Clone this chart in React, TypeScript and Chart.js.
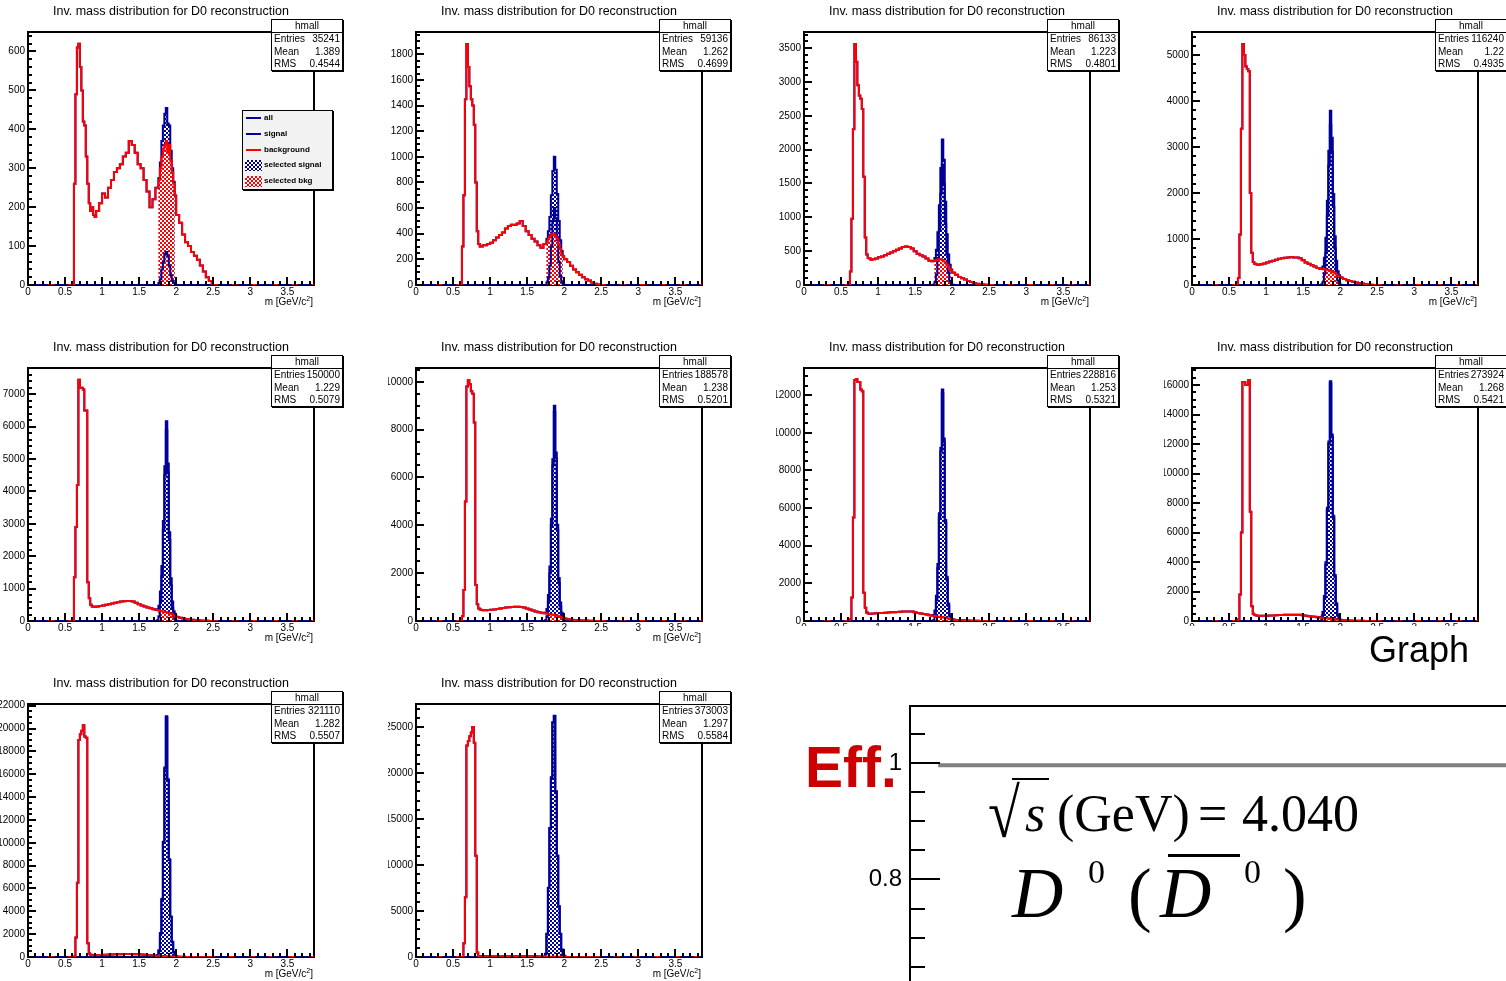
import React, { useEffect, useRef } from 'react';
import { Chart, registerables } from 'chart.js';

Chart.register(...registerables);

// ------------------------------------------------------------------ data
const X_MAX = 3.86;
const SEL_LO = 1.76;
const SEL_HI = 1.98;
const X_TICKS = [0, 0.5, 1, 1.5, 2, 2.5, 3, 3.5];

// background histogram bin edges (GeV/c^2)
const BKG_EDGES = [
  0.60, 0.62, 0.64, 0.66, 0.68, 0.70, 0.72, 0.74, 0.76, 0.78,
  0.80, 0.82, 0.84, 0.86, 0.88, 0.90, 0.92,
  0.96, 1.00, 1.04, 1.08, 1.12, 1.16, 1.20, 1.24, 1.28, 1.32,
  1.36, 1.40, 1.44, 1.48, 1.52, 1.56, 1.60, 1.64, 1.68, 1.72, 1.76,
  1.78, 1.80, 1.82, 1.84, 1.86, 1.88, 1.90, 1.92, 1.94, 1.96, 1.98, 2.00,
  2.04, 2.08, 2.12, 2.16, 2.20, 2.24, 2.28, 2.32, 2.36, 2.40, 2.44, 2.48, 2.52,
];
// signal histogram bin edges
const SIG_EDGES = [1.72, 1.74, 1.76, 1.78, 1.80, 1.82, 1.84, 1.86, 1.88, 1.90, 1.92, 1.94, 1.96, 1.98, 2.00, 2.02, 2.04];

const BKG_P1 = [
  0, 260, 490, 610, 620, 560, 500, 420, 410, 330,
  260, 210, 190, 200, 180, 175, 190,
  210, 235, 225, 250, 270, 290, 300, 310, 330, 340,
  370, 360, 340, 310, 300, 270, 240, 200, 220, 250, 270,
  300, 330, 350, 360, 370, 340, 360, 320, 290, 260, 230, 180,
  160, 130, 110, 100, 85, 75, 65, 50, 35, 20, 10, 0,
];
const BKG_P2 = [
  0, 300, 700, 1450, 1880, 1700, 1550, 1450, 1400, 1250,
  800, 420, 320, 300, 300, 310, 310,
  320, 330, 350, 370, 390, 410, 440, 460, 470, 470,
  480, 500, 460, 420, 390, 360, 340, 310, 290, 320, 340,
  360, 380, 400, 390, 400, 380, 360, 320, 280, 240, 220, 200,
  180, 150, 120, 100, 80, 60, 45, 35, 20, 10, 3, 0,
];
const BKG_P3 = [
  0, 200, 980, 2300, 3560, 3300, 2950, 2800, 2750, 2600,
  1600, 700, 450, 400, 390, 370, 380,
  390, 410, 420, 440, 460, 480, 500, 520, 540, 560,
  570, 560, 540, 500, 460, 440, 420, 390, 360, 350, 360,
  370, 380, 380, 380, 370, 350, 330, 300, 270, 240, 210, 180,
  150, 120, 100, 80, 60, 45, 30, 20, 12, 6, 2, 0,
];
const BKG_P4 = [
  0, 150, 1100, 3400, 5240, 5000, 4750, 4700, 4650, 2000,
  700, 500, 460, 450, 440, 440, 450,
  470, 490, 510, 530, 550, 570, 580, 590, 600, 610,
  600, 600, 580, 540, 490, 460, 430, 400, 370, 350, 340,
  340, 330, 330, 320, 310, 300, 280, 260, 230, 200, 180, 160,
  130, 105, 85, 70, 55, 40, 30, 20, 12, 6, 2, 0,
];
const BKG_P5 = [
  0, 1350, 2900, 4200, 7450, 7200, 7200, 7150, 6500, 6500,
  1200, 700, 500, 450, 440, 440, 450,
  460, 480, 500, 520, 540, 560, 580, 600, 610, 620,
  620, 600, 560, 520, 480, 450, 420, 390, 360, 340, 320,
  310, 300, 290, 280, 270, 260, 240, 220, 200, 170, 140, 120,
  100, 80, 60, 45, 35, 28, 22, 16, 10, 5, 2, 0,
];
const BKG_P6 = [
  0, 200, 1300, 5000, 9800, 10070, 9900, 9600, 9500, 8300,
  1500, 700, 520, 480, 460, 450, 450,
  460, 470, 480, 500, 520, 540, 560, 570, 590, 600,
  600, 590, 560, 520, 480, 440, 400, 370, 340, 320, 300,
  290, 280, 270, 260, 250, 240, 220, 200, 170, 140, 110, 90,
  70, 55, 45, 35, 28, 22, 16, 12, 8, 4, 2, 0,
];
const BKG_P7 = [
  0, 100, 1250, 5500, 12800, 12850, 12700, 12700, 12300, 12200,
  1500, 700, 450, 400, 390, 390, 400,
  410, 420, 430, 440, 450, 460, 470, 480, 490, 500,
  510, 510, 500, 470, 430, 400, 370, 340, 310, 280, 260,
  240, 230, 220, 210, 200, 190, 170, 150, 130, 110, 90, 70,
  55, 45, 35, 28, 22, 16, 12, 8, 5, 3, 1, 0,
];
const BKG_P8 = [
  0, 100, 1800, 6000, 16200, 16200, 16000, 16000, 16340, 7400,
  1000, 500, 400, 370, 350, 350, 350,
  350, 360, 370, 380, 390, 400, 410, 420, 420, 430,
  430, 430, 420, 390, 360, 330, 300, 280, 250, 230, 210,
  200, 190, 180, 170, 160, 150, 140, 120, 100, 85, 70, 55,
  45, 35, 28, 22, 16, 12, 9, 6, 4, 2, 1, 0,
];
const BKG_P9 = [
  0, 50, 1700, 6500, 19000, 19500, 19800, 20300, 19300, 19200,
  1200, 300, 200, 170, 160, 160, 170,
  180, 190, 200, 210, 220, 230, 240, 250, 260, 260,
  260, 250, 240, 230, 210, 190, 170, 150, 130, 110, 100,
  95, 90, 85, 80, 75, 70, 60, 50, 40, 35, 28, 22,
  18, 14, 10, 8, 6, 4, 3, 2, 1, 1, 0, 0,
];
const BKG_P10 = [
  0, 0, 1500, 6500, 23000, 23500, 24000, 24400, 25000, 23300,
  11000, 500, 120, 90, 80, 80, 80,
  80, 85, 90, 95, 100, 105, 110, 115, 120, 120,
  120, 115, 110, 100, 90, 80, 70, 60, 50, 45, 40,
  38, 35, 32, 30, 28, 25, 22, 20, 17, 14, 12, 10,
  8, 6, 5, 4, 3, 2, 2, 1, 1, 0, 0, 0,
];

const SIG_P1 = [0, 0, 5, 15, 40, 60, 80, 85, 75, 50, 25, 10, 5, 0, 0, 0];
const SIG_P2 = [0, 0, 20, 60, 150, 300, 500, 600, 520, 350, 180, 70, 25, 5, 0, 0];
const SIG_P3 = [0, 5, 40, 150, 400, 800, 1350, 1780, 1500, 900, 450, 180, 60, 20, 5, 0];
const SIG_P4 = [0, 10, 60, 250, 700, 1500, 2600, 3480, 2900, 1700, 800, 300, 100, 30, 8, 0];
const SIG_P5 = [0, 20, 150, 600, 1400, 2800, 4500, 5900, 4600, 2500, 1100, 400, 130, 40, 10, 0];
const SIG_P6 = [0, 30, 200, 800, 2000, 4000, 6500, 8750, 6800, 3800, 1600, 600, 200, 60, 15, 0];
const SIG_P7 = [0, 40, 300, 1100, 2800, 5500, 9000, 12100, 9500, 5200, 2200, 800, 250, 70, 20, 0];
const SIG_P8 = [0, 50, 400, 1500, 3800, 7500, 12000, 16100, 12500, 7000, 3000, 1100, 350, 100, 25, 0];
const SIG_P9 = [0, 60, 500, 2000, 5000, 10000, 16500, 21000, 15500, 8500, 3500, 1300, 400, 120, 30, 0];
const SIG_P10 = [0, 300, 2500, 7500, 14000, 19500, 25500, 26200, 18000, 11000, 5500, 2500, 800, 200, 50, 0];

const BKG = [BKG_P1, BKG_P2, BKG_P3, BKG_P4, BKG_P5, BKG_P6, BKG_P7, BKG_P8, BKG_P9, BKG_P10];
const SIG = [SIG_P1, SIG_P2, SIG_P3, SIG_P4, SIG_P5, SIG_P6, SIG_P7, SIG_P8, SIG_P9, SIG_P10];

const Y_MAX = [650, 1974, 3738, 5502, 7811, 10575, 13440, 17155, 22150, 27510];
const Y_STEP = [100, 200, 500, 1000, 1000, 2000, 2000, 2000, 2000, 5000];

const ENTRIES = ['35241', '59136', '86133', '116240', '150000', '188578', '228816', '273924', '321110', '373003'];
const MEANS = ['1.389', '1.262', '1.223', '1.22', '1.229', '1.238', '1.253', '1.268', '1.282', '1.297'];
const RMS = ['0.4544', '0.4699', '0.4801', '0.4935', '0.5079', '0.5201', '0.5321', '0.5421', '0.5507', '0.5584'];

const LEGEND_LABELS = ['all', 'signal', 'background', 'selected signal', 'selected bkg'];

const GRAPH_X = [3.743, 4.04, 4.7];
const GRAPH_EFF = [0.997, 0.997, 0.997];
const GRAPH_Y_MIN = 0.5302;
const GRAPH_Y_MAX = 1.0991;
const GRAPH_Y_TICKS = [0.6, 0.8, 1];

// ------------------------------------------------------------------ style
const SANS = '"Liberation Sans", Arial, Helvetica, sans-serif';
const SERIF = '"Liberation Serif", "Times New Roman", Times, serif';
const BLUE = '#000099';
const RED = '#ff0000';
const PAD_W = 388;
const PAD_H = 336;
const BLEED = 14; // canvas extends left of the pad so long y labels are not cut

// ------------------------------------------------------------------ helpers
function stepAt(edges: number[], vals: number[], x: number) {
  for (let i = 0; i < vals.length; i++) {
    if (x >= edges[i] - 1e-9 && x < edges[i + 1] - 1e-9) return vals[i];
  }
  return 0;
}
function uniq(a: number[]) {
  return Array.from(new Set(a.map((v) => Math.round(v * 1000) / 1000))).sort((p, q) => p - q);
}
function minorDiv(step: number) {
  const lead = Math.round(step / Math.pow(10, Math.floor(Math.log10(step))));
  return lead === 2 ? 4 : 5;
}
function majorTicks(step: number, max: number) {
  const out: number[] = [];
  for (let k = 0; k * step <= max + 1e-9; k++) out.push(k * step);
  return out;
}
function makePattern(ctx: CanvasRenderingContext2D, color: string) {
  const c = document.createElement('canvas');
  c.width = 4;
  c.height = 4;
  const g = c.getContext('2d')!;
  g.fillStyle = '#ffffff';
  g.fillRect(0, 0, 4, 4);
  g.fillStyle = color;
  g.fillRect(0, 0, 2, 2);
  g.fillRect(2, 2, 2, 2);
  return ctx.createPattern(c, 'repeat');
}
const fmt = (v: number) => String(Math.round(v * 1000) / 1000);

function rootAxesPlugin(xMajor: number, xMinor: number, yMajor: number, yMinor: number) {
  return {
    id: 'rootAxes',
    beforeDatasetsDraw(chart: any) {
      const { ctx, chartArea: a } = chart;
      ctx.save();
      ctx.strokeStyle = '#000';
      ctx.lineWidth = 2;
      ctx.strokeRect(a.left, a.top, a.right - a.left, a.bottom - a.top);
      ctx.restore();
    },
    afterDatasetsDraw(chart: any) {
      const { ctx, chartArea: a } = chart;
      const xs = chart.scales.x;
      const ys = chart.scales.y;
      ctx.save();
      ctx.strokeStyle = '#000';
      ctx.lineWidth = 2;
      ctx.beginPath();
      for (let k = 0; ; k++) {
        const v = k * xMinor;
        if (v > xs.max + 1e-9) break;
        const px = Math.round(xs.getPixelForValue(v));
        const major = Math.abs(v / xMajor - Math.round(v / xMajor)) < 1e-6;
        const len = major ? 8 : 4;
        ctx.moveTo(px, a.bottom);
        ctx.lineTo(px, a.bottom - len);
      }
      for (let k = 0; ; k++) {
        const v = k * yMinor;
        if (v > ys.max + 1e-9) break;
        const py = Math.round(ys.getPixelForValue(v));
        const major = Math.abs(v / yMajor - Math.round(v / yMajor)) < 1e-6;
        const len = major ? 8 : 4;
        ctx.moveTo(a.left, py);
        ctx.lineTo(a.left + len, py);
      }
      ctx.stroke();
      ctx.restore();
    },
  };
}

// ------------------------------------------------------------------ histogram pad
function Hist({ idx }: { idx: number }) {
  const ref = useRef<HTMLCanvasElement | null>(null);
  useEffect(() => {
    const canvas = ref.current!;
    const ctx = canvas.getContext('2d')!;
    const bkg = BKG[idx];
    const sig = SIG[idx];
    const bkgF = (x: number) => stepAt(BKG_EDGES, bkg, x);
    const sigF = (x: number) => stepAt(SIG_EDGES, sig, x);
    const allF = (x: number) => bkgF(x) + sigF(x);
    const grid = uniq([0, ...BKG_EDGES, ...SIG_EDGES, X_MAX]);
    const win = grid.filter((x) => x >= SEL_LO - 1e-9 && x <= SEL_HI + 1e-9);
    const selAll = win.map((x) => ({ x, y: x < SEL_HI - 1e-9 ? allF(x) : 0 }));
    const selBkg = win.map((x) => ({ x, y: x < SEL_HI - 1e-9 ? bkgF(x) : 0 }));
    const bkgLine = uniq([0, ...BKG_EDGES, X_MAX]).map((x) => ({ x, y: bkgF(x) }));
    const sigLine = uniq([0, ...SIG_EDGES, X_MAX]).map((x) => ({ x, y: sigF(x) }));
    const allLine = grid.map((x) => ({ x, y: allF(x) }));
    const ystep = Y_STEP[idx];
    const yTicks = majorTicks(ystep, Y_MAX[idx]);
    const common = { stepped: true, pointRadius: 0, pointHoverRadius: 0 };
    const chart = new Chart(canvas, {
      type: 'line',
      data: {
        datasets: [
          {
            ...common,
            data: bkgLine,
            borderColor: RED,
            borderWidth: 2,
            fill: false,
            segment: {
              borderDash: (c: any) => (c.p0.parsed.y === 0 && c.p1.parsed.y === 0 ? [6, 14] : undefined),
            },
          },
          { ...common, data: sigLine, borderColor: BLUE, borderWidth: 2, fill: false },
          { ...common, data: allLine, borderColor: BLUE, borderWidth: 2, fill: false },
          {
            ...common,
            data: selBkg,
            borderColor: 'rgba(0,0,0,0)',
            borderWidth: 1,
            backgroundColor: makePattern(ctx, RED),
            fill: 'origin',
          },
          {
            ...common,
            data: selAll,
            borderColor: 'rgba(0,0,0,0)',
            borderWidth: 1,
            backgroundColor: makePattern(ctx, BLUE),
            fill: 'origin',
          },
        ],
      } as any,
      options: {
        animation: false,
        responsive: false,
        events: [],
        layout: { padding: { left: BLEED, top: 32, right: PAD_W - 314, bottom: PAD_H - 285 - 20 } },
        plugins: { legend: { display: false }, tooltip: { enabled: false } },
        scales: {
          x: {
            type: 'linear',
            min: 0,
            max: X_MAX,
            grid: { display: false, drawTicks: false },
            border: { display: false },
            ticks: {
              autoSkip: false,
              maxRotation: 0,
              padding: 1,
              color: '#000',
              font: { family: SANS, size: 10 },
              callback: (v: any) => fmt(Number(v)),
            },
            afterBuildTicks: (s: any) => {
              s.ticks = X_TICKS.map((v) => ({ value: v }));
            },
            afterFit: (s: any) => {
              s.height = 20;
            },
          },
          y: {
            type: 'linear',
            min: 0,
            max: Y_MAX[idx],
            grid: { display: false, drawTicks: false },
            border: { display: false },
            ticks: {
              autoSkip: false,
              padding: 3,
              color: '#000',
              font: { family: SANS, size: 10 },
              callback: (v: any) => fmt(Number(v)),
            },
            afterBuildTicks: (s: any) => {
              s.ticks = yTicks.map((v) => ({ value: v }));
            },
            afterFit: (s: any) => {
              s.width = 28;
            },
          },
        },
      } as any,
      plugins: [rootAxesPlugin(0.5, 0.1, ystep, ystep / minorDiv(ystep))],
    });
    return () => chart.destroy();
  }, [idx]);

  const col = idx % 4;
  const row = Math.floor(idx / 4);
  const rows: [string, string][] = [
    ['Entries', ENTRIES[idx]],
    ['Mean', MEANS[idx]],
    ['RMS', RMS[idx]],
  ];
  return (
    <div style={{ position: 'absolute', left: col * PAD_W, top: row * PAD_H, width: PAD_W, height: PAD_H }}>
      <canvas
        ref={ref}
        width={PAD_W + BLEED}
        height={PAD_H}
        style={{ position: 'absolute', left: -BLEED, top: 0, width: PAD_W + BLEED, height: PAD_H }}
      />
      <div
        style={{
          position: 'absolute',
          left: 0,
          top: 3,
          width: 342,
          textAlign: 'center',
          fontSize: 12.5,
          lineHeight: '16px',
          whiteSpace: 'nowrap',
          color: '#000',
        }}
      >
        Inv. mass distribution for D0 reconstruction
      </div>
      <div
        style={{
          position: 'absolute',
          left: 271,
          top: 19,
          width: 70,
          height: 50,
          border: '1px solid #000',
          boxShadow: '1px 1px 0 #000',
          background: '#fff',
          fontSize: 10,
          lineHeight: 1,
          color: '#000',
        }}
      >
        <div
          style={{
            height: 12,
            display: 'flex',
            alignItems: 'center',
            justifyContent: 'center',
            borderBottom: '1px solid #000',
          }}
        >
          hmall
        </div>
        {rows.map(([k, v]) => (
          <div
            key={k}
            style={{
              height: 12.5,
              display: 'flex',
              alignItems: 'center',
              justifyContent: 'space-between',
              padding: '0 2px 0 2px',
              whiteSpace: 'nowrap',
            }}
          >
            <span>{k}</span>
            <span>{v}</span>
          </div>
        ))}
      </div>
      <div
        style={{
          position: 'absolute',
          left: 213,
          top: 295,
          width: 100,
          textAlign: 'right',
          fontSize: 10,
          lineHeight: '14px',
          whiteSpace: 'nowrap',
          color: '#000',
        }}
      >
        m [GeV/c<span style={{ fontSize: 7, position: 'relative', top: -4 }}>2</span>]
      </div>
      {idx === 0 && <Legend />}
    </div>
  );
}

function Legend() {
  const checker = (c: string) => `repeating-conic-gradient(${c} 0% 25%, #ffffff 0% 50%) 0 0 / 4px 4px`;
  return (
    <div
      style={{
        position: 'absolute',
        left: 242,
        top: 110,
        width: 89,
        height: 78,
        border: '1px solid #000',
        boxShadow: '1px 1px 0 #000',
        background: '#f2f2f2',
      }}
    >
      {LEGEND_LABELS.map((lab, i) => {
        const cy = 7 + i * 15.75;
        const isFill = i >= 3;
        const color = i === 2 || i === 4 ? RED : BLUE;
        return (
          <React.Fragment key={lab}>
            {isFill ? (
              <div
                style={{
                  position: 'absolute',
                  left: 2,
                  top: cy - 5.5,
                  width: 17,
                  height: 11,
                  background: checker(color),
                }}
              />
            ) : (
              <div style={{ position: 'absolute', left: 3, top: cy - 1, width: 15, height: 2, background: color }} />
            )}
            <div
              style={{
                position: 'absolute',
                left: 21,
                top: cy - 6,
                lineHeight: '12px',
                fontSize: 8,
                fontWeight: 'bold',
                whiteSpace: 'nowrap',
                color: '#000',
              }}
            >
              {lab}
            </div>
          </React.Fragment>
        );
      })}
    </div>
  );
}

// ------------------------------------------------------------------ graph pad
const GP_X = 776;
const GP_Y = 626;

function T(props: {
  x: number;
  base: number;
  size: number;
  fam?: string;
  weight?: string;
  italic?: boolean;
  color?: string;
  stretchY?: number;
  children: React.ReactNode;
}) {
  const fam = props.fam || SANS;
  const k = fam === SERIF ? 0.8375 : 0.8465;
  return (
    <div
      style={{
        position: 'absolute',
        left: props.x - GP_X,
        top: props.base - k * props.size - GP_Y,
        fontSize: props.size,
        lineHeight: `${props.size}px`,
        fontFamily: fam,
        fontWeight: props.weight || 'normal',
        fontStyle: props.italic ? 'italic' : 'normal',
        color: props.color || '#000',
        whiteSpace: 'nowrap',
        transform: props.stretchY ? `scaleY(${props.stretchY})` : undefined,
        transformOrigin: 'left top',
      }}
    >
      {props.children}
    </div>
  );
}

const graphFramePlugin = {
  id: 'graphFrame',
  beforeDatasetsDraw(chart: any) {
    const { ctx, chartArea: a } = chart;
    ctx.save();
    ctx.strokeStyle = '#000';
    ctx.lineWidth = 2;
    ctx.strokeRect(a.left, a.top, a.right - a.left, a.bottom - a.top);
    ctx.restore();
  },
  afterDatasetsDraw(chart: any) {
    const { ctx, chartArea: a } = chart;
    const ys = chart.scales.y;
    ctx.save();
    ctx.strokeStyle = '#000';
    ctx.lineWidth = 2;
    ctx.beginPath();
    const start = Math.ceil(ys.min / 0.05 - 1e-9);
    for (let k = start; ; k++) {
      const v = k * 0.05;
      if (v > ys.max + 1e-9) break;
      const py = Math.round(ys.getPixelForValue(v));
      const major = Math.abs(v / 0.2 - Math.round(v / 0.2)) < 1e-6;
      ctx.moveTo(a.left, py);
      ctx.lineTo(a.left + (major ? 30 : 15), py);
    }
    ctx.stroke();
    ctx.restore();
  },
};

function GraphPad() {
  const ref = useRef<HTMLCanvasElement | null>(null);
  useEffect(() => {
    const chart = new Chart(ref.current!, {
      type: 'line',
      data: {
        datasets: [
          {
            data: GRAPH_X.map((x, i) => ({ x, y: GRAPH_EFF[i] })),
            borderColor: '#808080',
            borderWidth: 4,
            pointRadius: 0,
            fill: false,
          },
        ],
      } as any,
      options: {
        animation: false,
        responsive: false,
        events: [],
        layout: { padding: { left: 0, top: 80, right: 10, bottom: 40 } },
        plugins: { legend: { display: false }, tooltip: { enabled: false } },
        scales: {
          x: { type: 'linear', display: false, min: 3.7, max: 4.7 },
          y: {
            type: 'linear',
            min: GRAPH_Y_MIN,
            max: GRAPH_Y_MAX,
            grid: { display: false, drawTicks: false },
            border: { display: false },
            ticks: {
              padding: 8,
              color: '#000',
              font: { family: SANS, size: 24 },
              callback: (v: any) => String(Math.round(Number(v) * 100) / 100),
            },
            afterBuildTicks: (s: any) => {
              s.ticks = GRAPH_Y_TICKS.map((v) => ({ value: v }));
            },
            afterFit: (s: any) => {
              s.width = 134;
            },
          },
        },
      } as any,
      plugins: [graphFramePlugin],
    });
    return () => chart.destroy();
  }, []);
  return (
    <div
      style={{
        position: 'absolute',
        left: GP_X,
        top: GP_Y,
        width: 1506 - GP_X,
        height: 981 - GP_Y,
        background: '#fff',
        overflow: 'hidden',
      }}
    >
      <canvas ref={ref} width={800} height={450} style={{ position: 'absolute', left: 0, top: 0, width: 800, height: 450 }} />
      <T x={1369} base={662} size={36}>Graph</T>
      <T x={805} base={787} size={57} weight="bold" color="#cc0000">Eff.</T>
      <T x={988} base={828} size={58} fam={SERIF} stretchY={1.2}>√</T>
      <div style={{ position: 'absolute', left: 1012 - GP_X, top: 778 - GP_Y, width: 37, height: 2, background: '#000' }} />
      <T x={1025} base={832} size={52} fam={SERIF} italic>s</T>
      <T x={1057} base={832} size={52} fam={SERIF}>(GeV)</T>
      <T x={1198} base={832} size={52} fam={SERIF}>=</T>
      <T x={1242} base={832} size={52} fam={SERIF}>4.040</T>
      <T x={1012} base={917} size={71} fam={SERIF} italic>D</T>
      <T x={1088} base={883} size={34} fam={SERIF}>0</T>
      <T x={1128} base={918} size={71} fam={SERIF}>(</T>
      <T x={1160} base={917} size={71} fam={SERIF} italic>D</T>
      <div style={{ position: 'absolute', left: 1168 - GP_X, top: 854 - GP_Y, width: 72, height: 3, background: '#000' }} />
      <T x={1244} base={883} size={34} fam={SERIF}>0</T>
      <T x={1283} base={918} size={71} fam={SERIF}>)</T>
    </div>
  );
}

// ------------------------------------------------------------------ app
export default function App() {
  return (
    <div
      style={{
        position: 'absolute',
        left: 0,
        top: 0,
        width: 1506,
        height: 981,
        overflow: 'hidden',
        background: '#fff',
        fontFamily: SANS,
      }}
    >
      {BKG.map((_, i) => (
        <Hist key={i} idx={i} />
      ))}
      <GraphPad />
    </div>
  );
}
